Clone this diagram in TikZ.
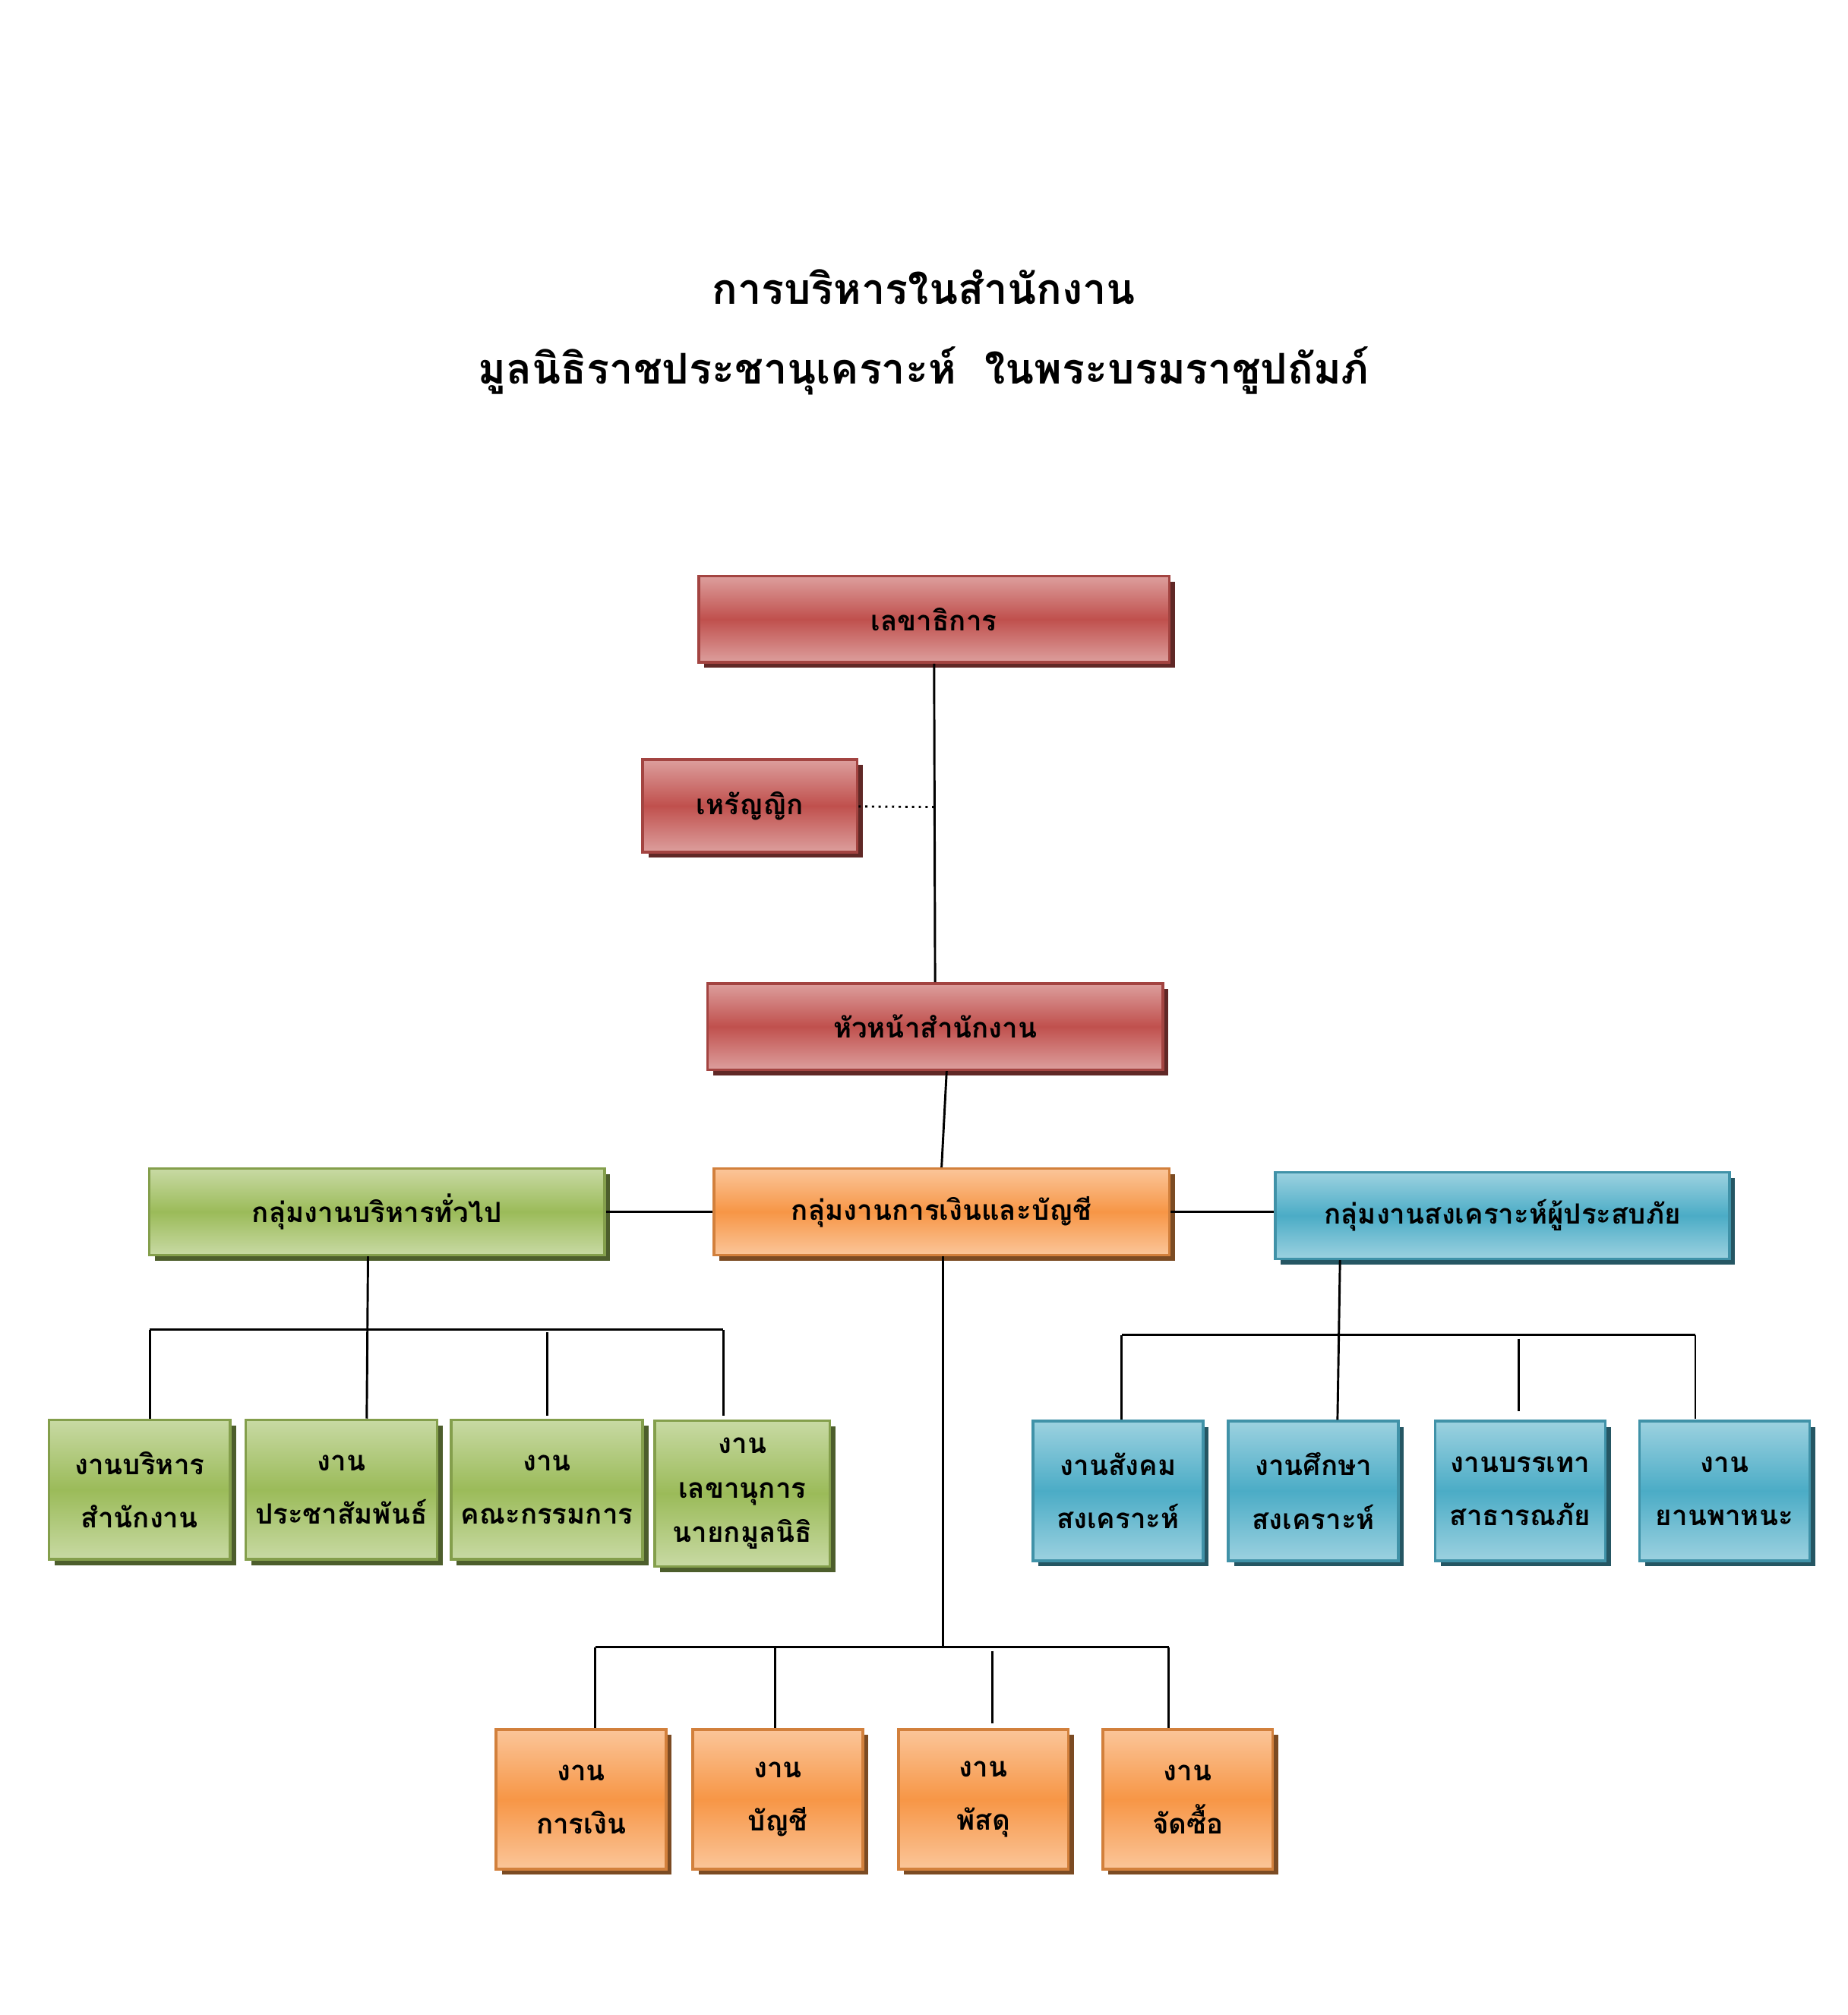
\documentclass[tikz,border=0pt]{standalone}
\usepackage{fontspec}
\usepackage{tikz}
\usetikzlibrary{positioning,shadows}
\newfontfamily\thai[Script=Thai]{Loma}
\definecolor{offred}{HTML}{C0504D}
\definecolor{offgreen}{HTML}{9BBB59}
\definecolor{offorange}{HTML}{F79646}
\definecolor{offblue}{HTML}{4BACC6}

\tikzset{
  unit/.style={draw=#1!85!black, line width=1.2pt, align=center,
    font=\thai\bfseries\fontsize{12.5}{24}\selectfont, inner sep=0pt,
    top color=#1!55!white, bottom color=#1!55!white, middle color=#1,
    drop shadow={shadow xshift=2.5pt, shadow yshift=-2.5pt, opacity=1, fill=#1!50!black}},
  redbox/.style={unit=offred},
  greenbox/.style={unit=offgreen},
  orangebox/.style={unit=offorange},
  bluebox/.style={unit=offblue},
  wide/.style={minimum width=7.18cm, minimum height=1.36cm},
  small/.style={minimum width=2.68cm, minimum height=2.2cm},
  link/.style={line width=1pt}
}

\begin{document}
\begin{tikzpicture}[x=0.02cm,y=-0.02cm]
\useasboundingbox (0,0) rectangle (1456,1588);

\node(title) at (728,226) {\thai\bfseries\fontsize{19}{26}\selectfont การบริหารในสำนักงาน};
\node(title2) at (728,292) {\thai\bfseries\fontsize{19}{26}\selectfont มูลนิธิราชประชานุเคราะห์\ \ ในพระบรมราชูปถัมภ์};

\node(sec)  [redbox, wide, minimum width=7.42cm] at (736,488) {เลขาธิการ};
\node(tre)  [redbox, minimum width=3.38cm, minimum height=1.46cm] at (591,635) {เหรัญญิก};
\node(head) [redbox, wide] at (737,809) {หัวหน้าสำนักงาน};

\node(gen)  [greenbox, wide] at (297,955) {กลุ่มงานบริหารทั่วไป};
\node(fin)  [orangebox, wide] at (742,955) {กลุ่มงานการเงินและบัญชี};
\node(wel)  [bluebox, wide, minimum width=7.16cm] at (1184,958) {กลุ่มงานสงเคราะห์ผู้ประสบภัย};

\node(g1) [greenbox, small, minimum width=2.86cm] at (110,1174) {งานบริหาร\\สำนักงาน};
\node(g2) [greenbox, small, minimum width=3.02cm] at (269,1174) {งาน\\ประชาสัมพันธ์};
\node(g3) [greenbox, small, minimum width=3.02cm] at (431,1174) {งาน\\คณะกรรมการ};
\node(g4) [greenbox, small, minimum width=2.76cm, minimum height=2.3cm, font=\thai\bfseries\fontsize{12.5}{20}\selectfont] at (585,1177) {งาน\\เลขานุการ\\นายกมูลนิธิ};

\node(b1) [bluebox, small] at (881,1175) {งานสังคม\\สงเคราะห์};
\node(b2) [bluebox, small] at (1035,1175) {งานศึกษา\\สงเคราะห์};
\node(b3) [bluebox, small] at (1198,1175) {งานบรรเทา\\สาธารณภัย};
\node(b4) [bluebox, small] at (1359,1175) {งาน\\ยานพาหนะ};

\node(o1) [orangebox, small] at (458,1418) {งาน\\การเงิน};
\node(o2) [orangebox, small] at (613,1418) {งาน\\บัญชี};
\node(o3) [orangebox, small] at (775,1418) {งาน\\พัสดุ};
\node(o4) [orangebox, small] at (936,1418) {งาน\\จัดซื้อ};

% upper chain
\draw[link] (sec) -- (head);
\coordinate (tj) at (736,636);
\draw[dotted, line width=1pt] (tre) -- (tj);
\draw[link] (head.south) ++(9,0) -- (fin.north);
\draw[link] (gen) -- (fin);
\draw[link] (fin.east) -- (wel.west |- fin.east);

% green bus
\draw[link] (118,1048) -- (570,1048);
\draw[link] (gen.south -| 290,0) -- (g2.north -| 289,0);
\draw[link] (118,1048) -- (g1.north -| 118,0);
\draw[link] (431,1050) -- (431,1116);
\draw[link] (570,1048) -- (570,1116);

% blue bus
\draw[link] (884,1052) -- (1336,1052);
\draw[link] (wel.south -| 1056,0) -- (b2.north -| 1054,0);
\draw[link] (884,1052) -- (b1.north -| 884,0);
\draw[link] (1197,1055) -- (1197,1112);
\draw[link] (1336,1052) -- (1336,1118);

% orange bus
\draw[link] (fin.south -| 743,0) -- (743,1298);
\draw[link] (469,1298) -- (921,1298);
\draw[link] (469,1298) -- (o1.north -| 469,0);
\draw[link] (611,1298) -- (o2.north -| 611,0);
\draw[link] (782,1301) -- (782,1358);
\draw[link] (921,1298) -- (o4.north -| 921,0);
\end{tikzpicture}
\end{document}
